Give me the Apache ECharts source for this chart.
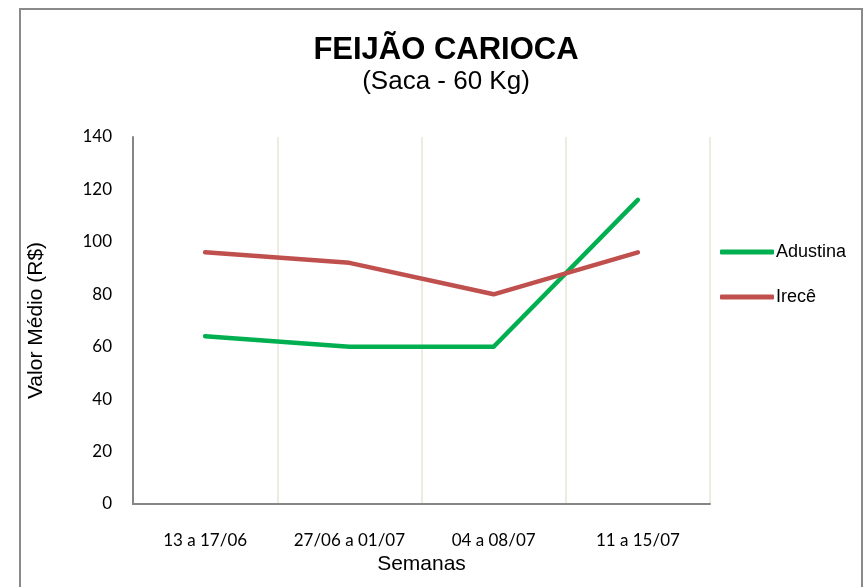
<!DOCTYPE html>
<html>
<head>
<meta charset="utf-8">
<script src="https://cdn.jsdelivr.net/npm/echarts@6/dist/echarts.min.js"></script>
<style>
  html, body { margin: 0; padding: 0; background: #fff; }
  #chart { width: 867px; height: 587px; }
</style>
</head>
<body>
<div id="chart"></div>
<script>
// semanas
var semanas = ["13 a 17/06", "27/06 a 01/07", "04 a 08/07", "11 a 15/07"];
// valor medio (R$)
var adustina = [64, 60, 60, 116];
var irece = [96, 92, 80, 96];
var yTicks = [0, 20, 40, 60, 80, 100, 120, 140];

var myChart = echarts.init(document.getElementById("chart"));
myChart.setOption({
  backgroundColor: "#fff",
  animation: false,
  graphic: [
    {
      type: "rect",
      shape: { x: 20, y: 9, width: 842, height: 600 },
      style: { fill: "none", stroke: "#8a8a8a", lineWidth: 2 },
      silent: true
    }
  ],
  title: {
    text: "FEIJÃO CARIOCA",
    subtext: "(Saca - 60 Kg)",
    left: 441,
    textAlign: "center",
    top: 30,
    itemGap: 3,
    textStyle: { fontFamily: "Liberation Sans", fontSize: 31, fontWeight: "bold", color: "#000" },
    subtextStyle: { fontFamily: "Liberation Sans", fontSize: 26, color: "#000" }
  },
  legend: {
    orient: "vertical",
    left: 715,
    top: 238,
    itemWidth: 54,
    itemHeight: 5,
    itemGap: 27,
    icon: "roundRect",
    textStyle: { fontFamily: "Liberation Sans", fontSize: 18, color: "#000", padding: [0, 0, 0, -3] },
    data: ["Adustina", "Irecê"]
  },
  grid: { left: 133, right: 157, top: 137, bottom: 83 },
  xAxis: {
    type: "category",
    data: semanas,
    boundaryGap: true,
    name: "Semanas",
    nameLocation: "middle",
    nameGap: 50,
    nameTextStyle: { fontFamily: "Liberation Sans", fontSize: 21, color: "#000" },
    axisLine: { lineStyle: { color: "#868686", width: 2 } },
    axisTick: { show: false },
    axisLabel: { interval: 0, fontFamily: "Lato", fontSize: 17, color: "#000", margin: 28 },
    splitLine: { show: true, interval: 0, lineStyle: { color: "#EEECE1", width: 2 } }
  },
  yAxis: {
    type: "value",
    min: 0,
    max: 140,
    interval: 20,
    name: "Valor Médio (R$)",
    nameLocation: "middle",
    nameGap: 86,
    nameTextStyle: { fontFamily: "Liberation Sans", fontSize: 21, color: "#000" },
    axisLine: { show: true, lineStyle: { color: "#868686", width: 2 } },
    axisTick: { show: false },
    axisLabel: {
      fontFamily: "Lato",
      fontSize: 17,
      color: "#000",
      margin: 21,
      formatter: function (v) { return yTicks.indexOf(v) >= 0 ? String(v) : ""; }
    },
    splitLine: { show: false }
  },
  series: [
    {
      name: "Adustina",
      type: "line",
      data: adustina,
      showSymbol: false,
      symbol: "none",
      itemStyle: { color: "#00B050" },
      lineStyle: { color: "#00B050", width: 4.5, cap: "round", join: "round" }
    },
    {
      name: "Irecê",
      type: "line",
      data: irece,
      showSymbol: false,
      symbol: "none",
      itemStyle: { color: "#C0504D" },
      lineStyle: { color: "#C0504D", width: 4.5, cap: "round", join: "round" }
    }
  ]
});
</script>
</body>
</html>
